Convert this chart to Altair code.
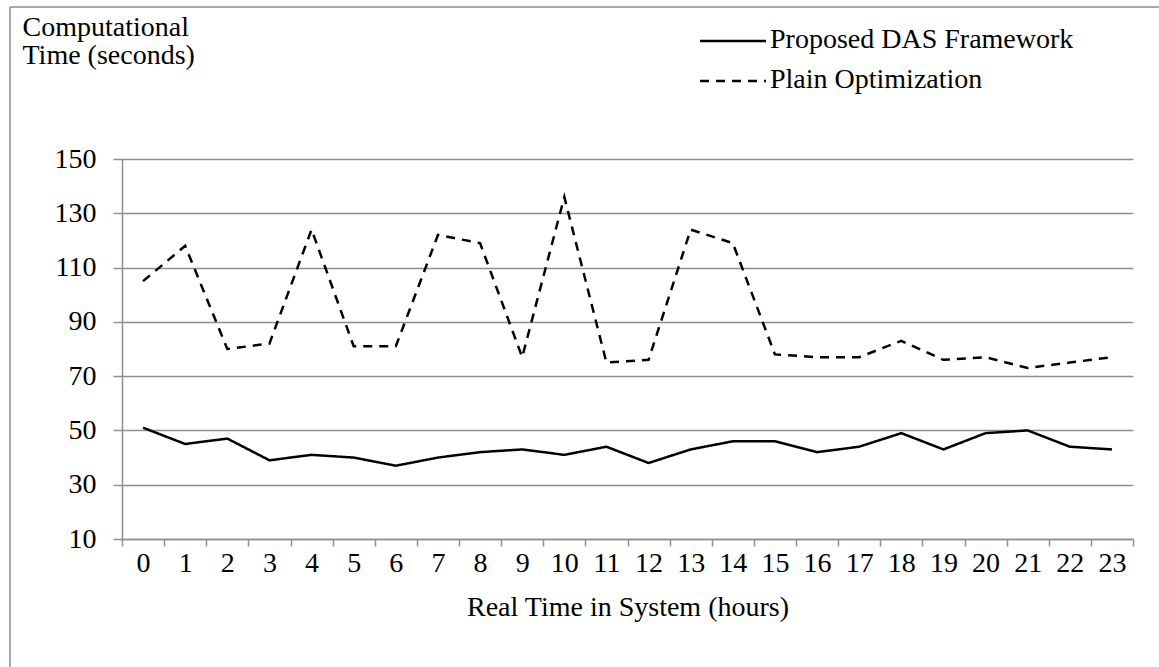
import altair as alt
import pandas as pd

hours = list(range(24))
das_framework = [51, 45, 47, 39, 41, 40, 37, 40, 42, 43, 41, 44, 38, 43, 46, 46, 42, 44, 49, 43, 49, 50, 44, 43]
plain_optimization = [105, 118, 80, 82, 124, 81, 81, 122, 119, 77, 136, 75, 76, 124, 119, 78, 77, 77, 83, 76, 77, 73, 75, 77]
series_names = ["Proposed DAS Framework", "Plain Optimization"]
y_ticks = [10, 30, 50, 70, 90, 110, 130, 150]

rows = []
for h, v in zip(hours, das_framework):
    rows.append({"hour": h, "value": v, "series": series_names[0]})
for h, v in zip(hours, plain_optimization):
    rows.append({"hour": h, "value": v, "series": series_names[1]})
df = pd.DataFrame(rows)

FONT = "Liberation Serif"
GRAY = "#8e8e8e"
DASHES = [[1, 0], [9, 7]]

lines = alt.Chart(df).mark_line(color="black", strokeWidth=2.5).encode(
    x=alt.X(
        "hour:O",
        bandPosition=0.5,
        scale=alt.Scale(type="band", paddingInner=0, paddingOuter=0),
        axis=alt.Axis(
            title="Real Time in System (hours)",
            labelAngle=0,
            tickBand="extent",
            tickSize=7,
            labelPadding=3,
            labelFontSize=28,
            labelFont=FONT,
            labelColor="black",
            titleFont=FONT,
            titleFontSize=28,
            titleFontWeight="normal",
            titleColor="black",
            titleBaseline="alphabetic",
            titleY=76,
            domainColor=GRAY,
            domainWidth=1.5,
            tickColor=GRAY,
            tickWidth=1.5,
            grid=False,
        ),
    ),
    y=alt.Y(
        "value:Q",
        scale=alt.Scale(domain=[10, 150], nice=False, zero=False),
        axis=alt.Axis(
            values=y_ticks,
            title=["Computational", "Time (seconds)"],
            titleAngle=0,
            titleAlign="left",
            titleBaseline="alphabetic",
            titleX=-100,
            titleY=-124,
            titleLineHeight=28,
            titleFont=FONT,
            titleFontSize=28,
            titleFontWeight="normal",
            titleColor="black",
            tickSize=9,
            labelPadding=17,
            labelFontSize=28,
            labelFont=FONT,
            labelColor="black",
            domainColor=GRAY,
            domainWidth=1.5,
            tickColor=GRAY,
            tickWidth=1.5,
            grid=True,
            gridColor=GRAY,
            gridWidth=1.5,
        ),
    ),
    strokeDash=alt.StrokeDash(
        "series:N",
        sort=series_names,
        scale=alt.Scale(domain=series_names, range=DASHES),
        legend=None,
    ),
)

# manual legend (line sample + label) in the top-right corner
legend_df = pd.DataFrame({"k": [0]})
legend_layers = []
for i, name in enumerate(series_names):
    y_line = -118 + 40 * i
    legend_layers.append(
        alt.Chart(legend_df).mark_rule(color="black", strokeWidth=2.5, strokeDash=DASHES[i]).encode(
            x=alt.value(578), x2=alt.value(644), y=alt.value(y_line)
        )
    )
    legend_layers.append(
        alt.Chart(legend_df).mark_text(
            font=FONT, fontSize=28, color="black", align="left", baseline="alphabetic"
        ).encode(x=alt.value(648), y=alt.value(y_line + 7), text=alt.value(name))
    )

top_rule = alt.Chart(legend_df).mark_rule(color=GRAY, strokeWidth=1.5).encode(
    x=alt.value(-112), x2=alt.value(1037), y=alt.value(-152)
)
left_rule = alt.Chart(legend_df).mark_rule(color=GRAY, strokeWidth=1.5).encode(
    x=alt.value(-112), y=alt.value(-152), y2=alt.value(508)
)

chart = alt.layer(top_rule, left_rule, lines, *legend_layers).properties(
    width=1011,
    height=380,
    autosize=alt.AutoSizeParams(type="none"),
    padding={"left": 122, "top": 159, "right": 26, "bottom": 128},
    background="white",
).configure_view(stroke=None)

chart.save("out.html", embed_options={"renderer": "svg", "actions": False})
